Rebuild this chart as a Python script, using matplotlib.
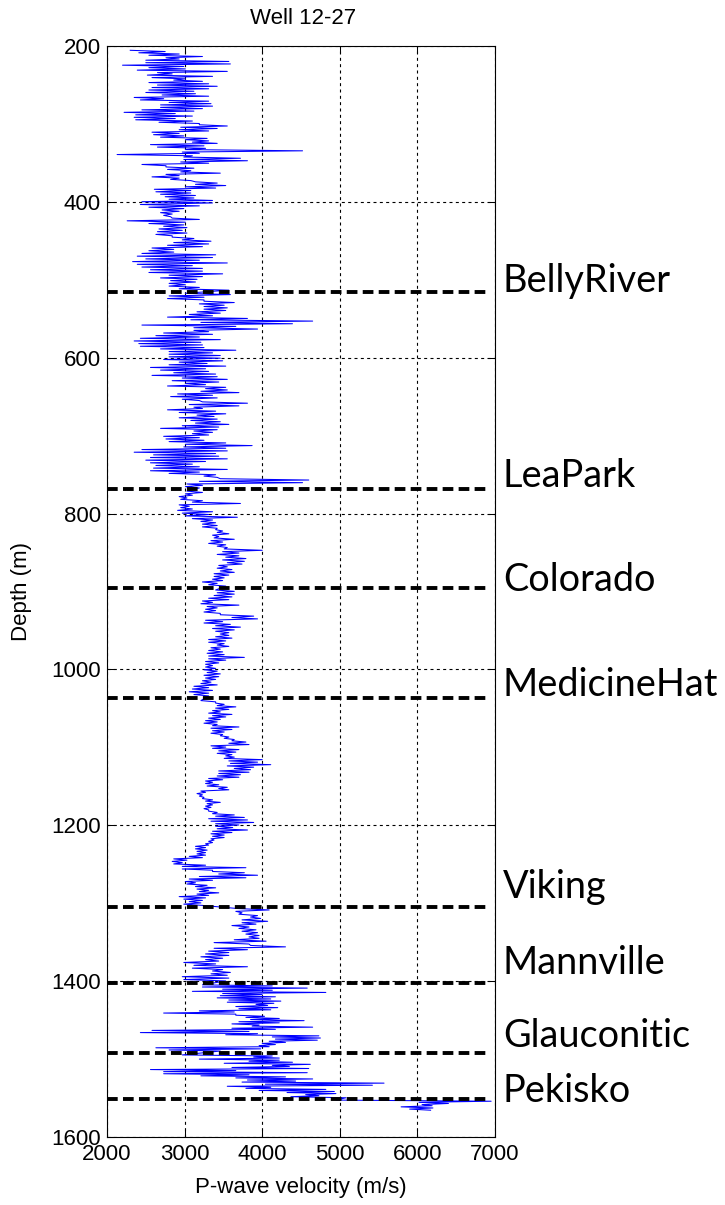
import numpy as np
import matplotlib
matplotlib.use("Agg")
import matplotlib.pyplot as plt

# Formation tops picked on the log (m)
formations = ["BellyRiver", "LeaPark", "Colorado", "MedicineHat",
              "Viking", "Mannville", "Glauconitic", "Pekisko"]
tops = [515, 768, 895, 1037, 1305, 1402, 1493, 1552]

# Axis ticks
x_ticks = [2000, 3000, 4000, 5000, 6000, 7000]
y_ticks = [200, 400, 600, 800, 1000, 1200, 1400, 1600]

# Sonic-derived P-wave velocity (m/s), interval by interval.
# Each interval holds (low, high) sample pairs from top to base.
v_shallow_a = [
    2300, 2750, 2410, 2930, 2540, 3230, 2760, 2930, 2500, 3570,
    2500, 3590, 2200, 2990, 2540, 3010, 2390, 3550, 2650, 2840,
    2520, 3360, 2580, 3010, 2860, 3230, 2540, 3310, 2650, 3420,
    2580, 3310, 2540, 3120, 2500, 3140, 2710, 3310, 2350, 2730,
    2430, 3310, 2800, 3340, 2690, 3360, 2690, 3230, 2450, 3120,
    2220, 2880, 2370, 3100, 2350, 2880, 2370, 3100, 2670, 3190,
    3190, 3550, 2950, 3420, 2930, 3310, 2580, 2930, 2600, 2990,
    2690, 3290, 3010, 3310, 3100, 3420, 2560, 3250, 2650, 3270,
    3010, 4520, 2970, 3190, 2130, 3100, 2990, 3720, 2990, 3810,
    2950, 3310, 2450, 2760, 2760, 3120, 2780, 3080, 2950, 3460,
    2760, 2930, 2580, 2930, 2820, 3080, 3140, 3420, 3140, 3530,
    3010, 3400, 2610, 3080, 2630, 3080, 2690, 3140, 2750, 3120,
    2800, 3360, 2450, 3360,
]
v_shallow_b = [
    2430, 3190, 2540, 2990, 2710, 2930, 2690, 2840, 2730, 2820,
    2840, 3190, 2260, 3010, 2540, 2990, 2730, 3030, 2670, 2970,
    2650, 3030, 2630, 2840, 2840, 3120, 2970, 3340, 2860, 3310,
    2780, 3230, 2580, 2860, 2540, 2860, 2450, 3400, 2390, 3360,
    2500, 3190, 2330, 3550, 2390, 3100, 2450, 3230, 2560, 3230,
    2540, 3490, 2800, 3230, 2690, 3160, 2820, 3140, 2800, 3010,
    2800, 3190, 2930, 3570,
]
v_belly_river = [
    3010, 3590, 2800, 3250, 2780, 3250, 3250, 3640, 3190, 3510,
    3250, 3550, 3250, 3530, 3160, 3460, 3060, 3360, 2780, 3810,
    3080, 4650, 3210, 4390, 2450, 3660, 3120, 3940, 3120, 3310,
    2730, 3360, 2630, 3190, 2430, 3460, 2350, 3210, 2410, 3230,
    2430, 3250, 2690, 3660, 2800, 3360, 2800, 3460, 2800, 3460,
    2730, 3490, 2930, 3290, 2800, 3530, 2560, 3270, 2690, 3310,
    2860, 3400, 2580, 3420, 2970, 3550, 2840, 3440, 3010, 3270,
    2780, 3530, 3270, 3550, 3210, 3700, 2910, 3360, 2820, 3420,
    2970, 3190, 3230, 3810, 3060, 3700, 3120, 3230, 2780, 3400,
    2930, 3530, 3160, 3380, 2930, 3420, 3080, 3460, 3140, 3570,
    2970, 3440, 2690, 3420, 3120, 3360, 3100, 3310, 2730, 3190,
    2760, 3250, 2800, 3530, 3010, 3870, 2990, 3530, 2450, 3550,
    2350, 3400, 2600, 3440, 2560, 3550, 2500, 3270, 2560, 3100,
    2630, 3190, 2600, 3550, 2560, 3190, 2800, 3400, 3250, 3420,
    3460, 4600, 3190, 4520, 3030, 3230, 3010, 3190,
]
v_lea_park = [
    3030, 3230, 3010, 3100, 2930, 3030, 2950, 3230, 3100, 3720,
    2930, 3060, 2950, 3100, 2910, 3360, 2970, 3310, 3010, 3680,
    3100, 3360, 3210, 3400, 3230, 3420, 3230, 3420, 3400, 3490,
    3420, 3570, 3360, 3440, 3380, 3640, 3340, 3490, 3310, 3530,
    3420, 3550, 3510, 4000, 3490, 3700, 3420, 3700, 3530, 3790,
    3490, 3770, 3550, 3740, 3440, 3550, 3420, 3610, 3460, 3640,
    3380, 3570, 3380, 3510, 3360, 3490, 3230, 3420, 3310, 3530,
]
v_colorado = [
    3400, 3640, 3420, 3640, 3380, 3610, 3310, 3570, 3230, 3360,
    3210, 3700, 3290, 3420, 3270, 3400, 3250, 3460, 3460, 3890,
    3610, 3940, 3270, 3490, 3250, 3590, 3400, 3720, 3360, 3640,
    3400, 3570, 3460, 3570, 3400, 3610, 3310, 3530, 3310, 3510,
    3420, 3570, 3340, 3460, 3310, 3490, 3290, 3510, 3310, 3770,
    3310, 3530, 3270, 3440, 3270, 3360, 3270, 3400, 3250, 3420,
    3290, 3460, 3250, 3440, 3270, 3400, 3230, 3340, 3210, 3420,
    3120, 3310, 3100, 3360, 3060, 3310, 3120, 3310,
]
v_medicine_hat = [
    3210, 3400, 3400, 3510, 3420, 3660, 3400, 3570, 3360, 3460,
    3310, 3610, 3360, 3530, 3310, 3460, 3270, 3420, 3250, 3420,
    3360, 3700, 3340, 3610, 3360, 3510, 3340, 3490, 3460, 3570,
    3510, 3640, 3610, 3790, 3570, 3830, 3340, 3530, 3360, 3700,
    3440, 3660, 3420, 3610, 3530, 3640, 3510, 4000, 3570, 3940,
    3590, 4110, 3550, 3890, 3640, 3850, 3440, 3830, 3440, 3720,
    3420, 3700, 3310, 3490, 3270, 3360, 3270, 3440, 3290, 3550,
    3440, 3570, 3210, 3270, 3160, 3230, 3190, 3250, 3230, 3360,
    3270, 3460, 3290, 3360, 3270, 3340, 3250, 3310, 3310, 3420,
    3360, 3640, 3400, 3770, 3310, 3810, 3340, 3890, 3400, 3700,
    3400, 3620, 3420, 3810, 3360, 3610, 3340, 3510, 3360, 3510,
    3340, 3380, 3310, 3360, 3270, 3310, 3140, 3270, 3140, 3290,
    3160, 3270, 3160, 3270, 3060, 3230, 2860, 3030, 2840, 2970,
    2860, 3270, 2970, 3790, 2970, 3360, 3360, 3770, 3440, 3940,
    3190, 3790, 3060, 3360, 3010, 3140, 3030, 3290, 3140, 3400,
    3160, 3310, 3190, 3440, 3160, 3310, 2930, 3270, 2990, 3230,
    3060, 3210, 2990, 3230,
]
v_viking = [
    3680, 4090, 3660, 3740, 3700, 3940, 3850, 3980, 3740, 4070,
    3740, 3920, 3610, 3830, 3700, 3920, 3740, 3940, 3790, 3960,
    3830, 3960, 3640, 4050, 3380, 3830, 3850, 4300, 3380, 3810,
    3310, 3570, 3270, 3570, 3210, 3490, 3270, 3440, 2990, 3400,
    3120, 3810, 3100, 3490, 3360, 3590, 3340, 3550, 2970, 3570,
    2990, 3530,
]
v_mannville = [
    3230, 4130, 3230, 4580, 3490, 4130, 3100, 4820, 3490, 4000,
    3460, 4170, 3420, 4110, 3570, 4240, 3550, 4150, 3920, 4070,
    3660, 4200, 3700, 4110, 3190, 3640, 2730, 3660, 3660, 4030,
    3790, 4220, 3850, 4540, 3700, 4220, 3610, 3960, 3870, 4650,
    3610, 4170, 2580, 3830, 2430, 3940, 3530, 4730, 4130, 4750,
    4170, 4710, 4090, 4300, 4000, 4170, 3960, 4090, 2630, 3980,
    2800, 3460,
]
v_glauconitic = [
    2970, 4130, 3890, 4220, 3190, 4220, 3830, 4390, 3510, 4620,
    4130, 4350, 3610, 4600, 2560, 3660, 2730, 4580, 2730, 3830,
    3210, 4300, 3660, 4650, 3810, 4430, 3740, 5570, 4040, 5420,
    3550, 4110, 3790, 4820, 3960, 4930, 4320, 4950, 4560, 4730,
    4370, 5080,
]
v_pekisko = [4950, 6950, 6020, 6400, 6060, 6190, 5790, 6200, 5900, 6170]

# Depth range (m) covered by each interval's samples
log_intervals = [
    (205, 401, v_shallow_a),
    (403, 513, v_shallow_b),
    (517, 767, v_belly_river),
    (771, 893, v_lea_park),
    (898, 1034, v_colorado),
    (1040, 1303, v_medicine_hat),
    (1307, 1400, v_viking),
    (1405, 1490, v_mannville),
    (1495, 1550, v_glauconitic),
    (1553, 1566, v_pekisko),
]

depth = np.concatenate([np.linspace(a, b, len(v)) for a, b, v in log_intervals])
vel = np.concatenate([np.asarray(v, float) for _, _, v in log_intervals])

# ---- figure -------------------------------------------------------------
W, H = 725, 1205
fig = plt.figure(figsize=(W / 100, H / 100), dpi=100)
ax_l, ax_r, ax_t, ax_b = 107, 495, 46.4, 1136.7
ax = fig.add_axes([ax_l / W, 1 - ax_b / H, (ax_r - ax_l) / W, (ax_b - ax_t) / H])

tick_font = dict(family="Liberation Sans", size=16)

ax.plot(vel, depth, color="#0000ff", lw=0.75, zorder=3)

ax.set_xlim(2000, 7000)
ax.set_ylim(1600, 200)
ax.set_xticks(x_ticks)
ax.set_yticks(y_ticks)
ax.set_xticklabels([str(t) for t in x_ticks], fontdict=tick_font)
ax.set_yticklabels([str(t) for t in y_ticks], fontdict=tick_font)
ax.tick_params(direction="in", top=True, right=True, length=5, width=0.75,
               colors="black")
ax.tick_params(axis="x", pad=5.5)
ax.tick_params(axis="y", pad=4.5)

ax.set_axisbelow(True)
ax.grid(True, color="black", linestyle=(0, (2.7, 3.0)), lw=0.8)
for s in ax.spines.values():
    s.set_linewidth(0.8)
    s.set_color("black")

# formation tops
ax.hlines(tops, 2000, 6900, colors="black", linestyles=(0, (2.75, 1.36)),
          lw=2.8, zorder=5)

label_dy = [0, 1.4, -2.2, 1.4, 6.5, 5.8, 4.3, -2.2]
for name, top, dy in zip(formations, tops, label_dy):
    ax.annotate(name, xy=(1.0206, top), xycoords=ax.get_yaxis_transform(),
                xytext=(0, dy), textcoords="offset points",
                ha="left", va="baseline", fontsize=27.3, family="Lato",
                color="black", annotation_clip=False)

ax.set_xlabel("P-wave velocity (m/s)", fontdict=tick_font)
ax.set_ylabel("Depth (m)", fontdict=tick_font)
ax.xaxis.set_label_coords(0.5, (ax_b - 1188) / (ax_b - ax_t))
ax.xaxis.label.set_va("center")
ax.yaxis.set_label_coords((22 - ax_l) / (ax_r - ax_l), 0.5)
ax.yaxis.label.set_va("center")

fig.text(303 / W, 1 - 18.5 / H, "Well 12-27", ha="center", va="center",
         family="Liberation Sans", fontsize=16)

fig.savefig("out.png", dpi=100)
